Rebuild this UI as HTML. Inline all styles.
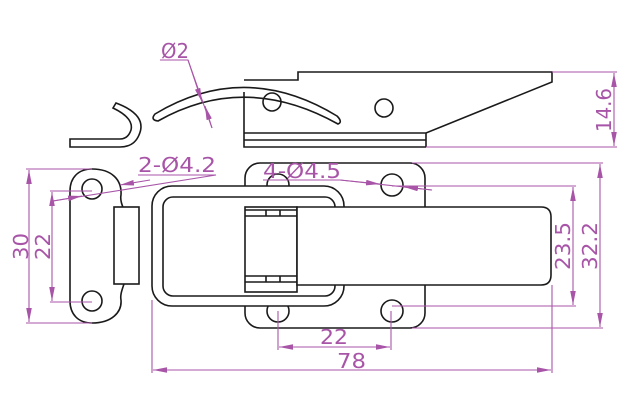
<!DOCTYPE html>
<html><head><meta charset="utf-8"><style>
html,body{margin:0;padding:0;background:#fff;}
svg{display:block;}
text{font-family:"DejaVu Sans","Liberation Sans",sans-serif;fill:#a855a8;}
</style></head><body>
<svg width="636" height="406" viewBox="0 0 636 406" xmlns="http://www.w3.org/2000/svg">
<defs>
<marker id="a" viewBox="0 0 10 4" refX="10" refY="2" markerWidth="14" markerHeight="5.6" orient="auto-start-reverse" markerUnits="userSpaceOnUse"><path d="M0,0 L10,2 L0,4 Z" fill="#a855a8"/></marker>
</defs>
<g fill="none" stroke="#1a1a1a" stroke-width="1.6">
<!-- side view -->
<path d="M244,92 V147 H426 M244,80 H298 V72 H552 V82 L426,133 H244 M244,140 H426 M426,133 V147"/>
<circle cx="272" cy="102" r="9"/>
<circle cx="384" cy="108" r="9"/>
<path d="M155,114 Q245,60 337,116 Q343,122 338,124 Q245,72 158,121 Q150,120 155,114 Z"/>
<path d="M113,108 L116,103 Q148,115 139,135 Q134,147 120,147 H70 V139 H120 Q128,139 131,130 Q134,118 113,108 Z"/>
<!-- left plate -->
<path d="M92,169 C112,169 122,180 121,195 C120,200 122,205 124,210 M124,284 C122,290 120,295 121,300 C122,312 112,323 92,323 C78,323 70,314 70,301 V191 C70,178 78,169 92,169"/>
<circle cx="92" cy="189" r="10"/>
<circle cx="92" cy="301" r="10"/>
<rect x="114" y="207" width="25" height="77" fill="#fff"/>
<!-- plate -->
<rect x="245" y="163" width="180" height="165" rx="15"/>
<circle cx="278" cy="185" r="11"/>
<circle cx="392" cy="185" r="11"/>
<circle cx="278" cy="311" r="11"/>
<circle cx="392" cy="311" r="11"/>
<!-- loop -->
<rect x="152" y="186" width="192" height="120" rx="20" fill="#fff"/>
<rect x="163" y="197" width="172" height="99" rx="10"/>
<!-- hinge -->
<rect x="245" y="207" width="52" height="85" fill="#fff"/>
<path d="M245,210 H297 M245,216 H297 M245,276 H297 M245,282 H297 M266,210 V216 M280,210 V216 M266,276 V282 M280,276 V282"/>
<!-- strap -->
<path d="M297,207 H541 Q551,207 551,217 V275 Q551,285 541,285 H297 Z" fill="#fff"/>
</g>
<g stroke="#a855a8" stroke-width="1.1" fill="none">
<path d="M552,72 H617 M426,147 H617"/>
<path d="M614,73 V146" marker-start="url(#a)" marker-end="url(#a)"/>
<path d="M160,60 H188 L212,128"/>
<path d="M188,60 L202,102" marker-end="url(#a)"/>
<path d="M212,128 L205,106" marker-end="url(#a)"/>
<path d="M26,169 H92 M26,323 H92 M50,191 H92 M50,302 H92"/>
<path d="M29,170 V322" marker-start="url(#a)" marker-end="url(#a)"/>
<path d="M52,192 V301" marker-start="url(#a)" marker-end="url(#a)"/>
<path d="M138,175 H216 L53,201"/>
<path d="M150,180 L120,185" marker-end="url(#a)"/>
<path d="M53,201 L82,196" marker-end="url(#a)"/>
<path d="M263,180 H340 L432,190"/>
<path d="M340,180 L380,184" marker-end="url(#a)"/>
<path d="M432,190 L404,187" marker-end="url(#a)"/>
<path d="M392,186 H576 M392,306 H576 M412,163 H603 M412,328 H603"/>
<path d="M573,187 V305" marker-start="url(#a)" marker-end="url(#a)"/>
<path d="M600,164 V327" marker-start="url(#a)" marker-end="url(#a)"/>
<path d="M278,311 V350 M391,311 V350 M152,300 V373 M552,285 V373"/>
<path d="M279,347 H390" marker-start="url(#a)" marker-end="url(#a)"/>
<path d="M153,370 H551" marker-start="url(#a)" marker-end="url(#a)"/>
</g>
<g font-size="20">
<text x="161" y="58" textLength="28" lengthAdjust="spacingAndGlyphs">Ø2</text>
<text x="138" y="172" textLength="78" lengthAdjust="spacingAndGlyphs">2-Ø4.2</text>
<text x="263" y="178" textLength="78" lengthAdjust="spacingAndGlyphs">4-Ø4.5</text>
<text x="320" y="344" textLength="28" lengthAdjust="spacingAndGlyphs">22</text>
<text x="337" y="368" textLength="29" lengthAdjust="spacingAndGlyphs">78</text>
<text transform="translate(611,132) rotate(-90)" textLength="44" lengthAdjust="spacingAndGlyphs">14.6</text>
<text transform="translate(28,260) rotate(-90)" textLength="27" lengthAdjust="spacingAndGlyphs">30</text>
<text transform="translate(50,260) rotate(-90)" textLength="27" lengthAdjust="spacingAndGlyphs">22</text>
<text transform="translate(570,270) rotate(-90)" textLength="48" lengthAdjust="spacingAndGlyphs">23.5</text>
<text transform="translate(597,270) rotate(-90)" textLength="48" lengthAdjust="spacingAndGlyphs">32.2</text>
</g>
</svg>
</body></html>
